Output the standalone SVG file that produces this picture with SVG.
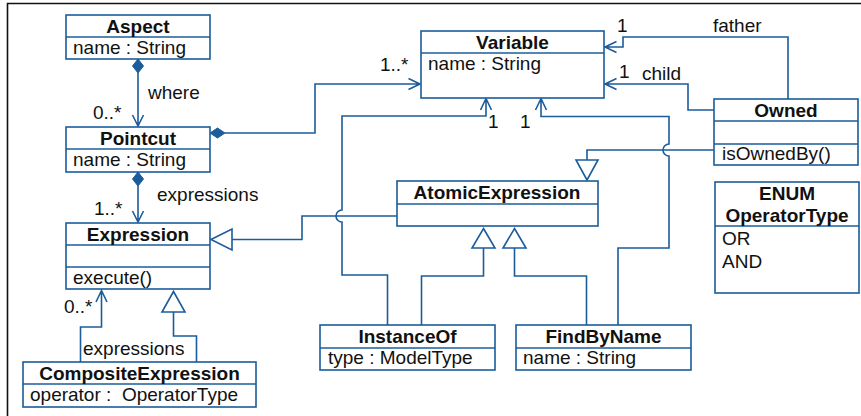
<svg xmlns="http://www.w3.org/2000/svg" width="861" height="416" viewBox="0 0 861 416">
<style>
.box{fill:#fff;stroke:#1b5c9a;stroke-width:1.6}
.div{stroke:#1b5c9a;stroke-width:1.6;fill:none}
.ln{fill:none;stroke:#1b5c9a;stroke-width:1.6}
.dia{fill:#1b5c9a;stroke:#1b5c9a;stroke-width:1}
.tri{fill:#fff;stroke:#1b5c9a;stroke-width:1.6}
text{font-family:"Liberation Sans",Arial,Helvetica,sans-serif;font-size:19px;fill:#111}
.t{font-weight:bold;text-anchor:middle}
.pre{white-space:pre}
</style>
<rect width="861" height="416" fill="#fff"/>
<path d="M7.5,416 V3.5 H861" fill="none" stroke="#111" stroke-width="1.6"/>

<g id="connectors">
  <!-- Aspect - Pointcut -->
  <path class="dia" d="M138,59 L143.5,66 L138,73 L132.5,66 Z"/>
  <path class="ln" d="M138,73 V126 M132.5,115 L138,126 L143.5,115"/>
  <text x="148" y="99">where</text>
  <text x="93" y="119">0..*</text>
  <!-- Pointcut - Variable -->
  <path class="dia" d="M210,133 L217.5,128 L225,133 L217.5,138 Z"/>
  <path class="ln" d="M225,133 H315 V84 H420 M408.5,78.5 L420,84 L408.5,89.5"/>
  <text x="380" y="71">1..*</text>
  <!-- Pointcut - Expression -->
  <path class="dia" d="M138,172 L143.5,179 L138,186 L132.5,179 Z"/>
  <path class="ln" d="M138,186 V222 M132.5,211 L138,222 L143.5,211"/>
  <text x="157" y="201">expressions</text>
  <text x="94" y="215">1..*</text>
  <!-- AtomicExpression -> Expression -->
  <path class="ln" d="M232,239.5 H302 V216 H397"/>
  <path class="tri" d="M211,239.5 L232,229 L232,250 Z"/>
  <!-- InstanceOf - Variable -->
  <path class="ln" d="M387.5,325 V275 H342 V222 A6,6 0 0 1 342,210 V116 H486 V99 M480.5,110 L486,98.5 L491.5,110"/>
  <text x="488" y="128">1</text>
  <!-- InstanceOf -> AtomicExpression -->
  <path class="ln" d="M421.5,325 V276 H483.5 V248"/>
  <path class="tri" d="M483.5,228.5 L495,248 L472,248 Z"/>
  <!-- FindByName -> AtomicExpression -->
  <path class="ln" d="M586.5,325 V276 H514.5 V248"/>
  <path class="tri" d="M514.5,228.5 L526,248 L503,248 Z"/>
  <!-- FindByName - Variable -->
  <path class="ln" d="M618,325 V248 H669 V156 A6,6 0 0 1 669,144 V116.5 H541 V99 M535.5,110 L541,98.5 L546.5,110"/>
  <text x="520" y="128">1</text>
  <!-- Owned -> AtomicExpression -->
  <path class="ln" d="M714,150 H587 V160"/>
  <path class="tri" d="M576,160 L598,160 L587,180 Z"/>
  <!-- Owned father -->
  <path class="ln" d="M788,99 V37 H623 V47 H605 M616.5,41.5 L605,47 L616.5,52.5"/>
  <text x="617" y="32">1</text>
  <text x="713" y="32">father</text>
  <!-- Owned child -->
  <path class="ln" d="M714,110 H688 V84 H605 M616.5,78.5 L605,84 L616.5,89.5"/>
  <text x="619" y="78">1</text>
  <text x="642" y="80">child</text>
  <!-- CompositeExpression - Expression -->
  <path class="ln" d="M80.5,362 V327 H101.5 V291 M96,302 L101.5,290.5 L107,302"/>
  <text x="64" y="313">0..*</text>
  <text x="83" y="355">expressions</text>
  <!-- CompositeExpression -> Expression -->
  <path class="ln" d="M196.5,362 V336 H173.5 V312"/>
  <path class="tri" d="M173.5,291.5 L185,312 L162,312 Z"/>
</g>

<g id="Aspect">
  <rect class="box" x="66" y="15" width="144" height="44"/>
  <path class="div" d="M66,37 H210"/>
  <text class="t" x="138" y="32.5">Aspect</text>
  <text x="73" y="54">name : String</text>
</g>
<g id="Pointcut">
  <rect class="box" x="66" y="127" width="144" height="45"/>
  <path class="div" d="M66,149 H210"/>
  <text class="t" x="138" y="144.5">Pointcut</text>
  <text x="73" y="166">name : String</text>
</g>
<g id="Expression">
  <rect class="box" x="66" y="223" width="144" height="66"/>
  <path class="div" d="M66,245 H210 M66,267 H210"/>
  <text class="t" x="138" y="240.5">Expression</text>
  <text x="73" y="284">execute()</text>
</g>
<g id="CompositeExpression">
  <rect class="box" x="23" y="362" width="233" height="45"/>
  <path class="div" d="M23,384 H256"/>
  <text class="t" x="139.5" y="379.5">CompositeExpression</text>
  <text class="pre" x="30" y="401">operator :  OperatorType</text>
</g>
<g id="Variable">
  <rect class="box" x="421" y="31" width="183" height="67"/>
  <path class="div" d="M421,53 H604"/>
  <text class="t" x="512.5" y="48.5">Variable</text>
  <text x="428" y="70">name : String</text>
</g>
<g id="AtomicExpression">
  <rect class="box" x="397" y="181" width="201" height="45"/>
  <path class="div" d="M397,204 H598"/>
  <text class="t" x="497" y="199">AtomicExpression</text>
</g>
<g id="InstanceOf">
  <rect class="box" x="320" y="325" width="175" height="45"/>
  <path class="div" d="M320,348 H495"/>
  <text class="t" x="407.5" y="342.5">InstanceOf</text>
  <text x="328" y="364">type : ModelType</text>
</g>
<g id="FindByName">
  <rect class="box" x="516" y="325" width="175" height="45"/>
  <path class="div" d="M516,348 H691"/>
  <text class="t" x="603.5" y="342.5">FindByName</text>
  <text x="523" y="364">name : String</text>
</g>
<g id="Owned">
  <rect class="box" x="714" y="99" width="144" height="66"/>
  <path class="div" d="M714,121 H858 M714,144 H858"/>
  <text class="t" x="786" y="116.5">Owned</text>
  <text x="722" y="160">isOwnedBy()</text>
</g>
<g id="OperatorType">
  <rect class="box" x="715" y="182" width="144" height="111"/>
  <path class="div" d="M715,226 H859"/>
  <text class="t" x="787" y="199.5">ENUM</text>
  <text class="t" x="787" y="222">OperatorType</text>
  <text x="722" y="245">OR</text>
  <text x="722" y="267.5">AND</text>
</g>
</svg>
